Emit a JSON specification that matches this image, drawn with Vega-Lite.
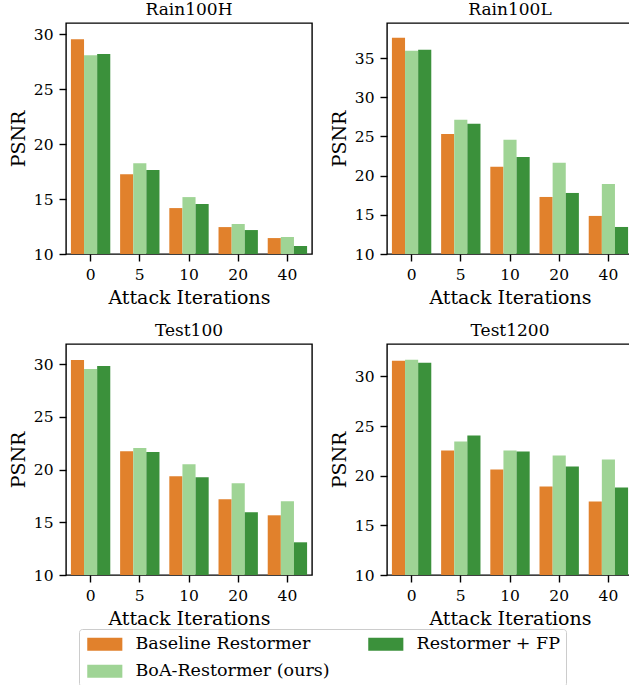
{
  "$schema": "https://vega.github.io/schema/vega-lite/v6.json",
  "padding": {"left": 8, "top": 0, "right": 0, "bottom": 0},
  "background": "white",
  "data": {"values": [
    {"dataset": "Rain100H", "iter": 0, "model": "Baseline Restormer", "psnr": 29.55},
    {"dataset": "Rain100H", "iter": 0, "model": "BoA-Restormer (ours)", "psnr": 28.1},
    {"dataset": "Rain100H", "iter": 0, "model": "Restormer + FP", "psnr": 28.2},
    {"dataset": "Rain100H", "iter": 5, "model": "Baseline Restormer", "psnr": 17.27},
    {"dataset": "Rain100H", "iter": 5, "model": "BoA-Restormer (ours)", "psnr": 18.27},
    {"dataset": "Rain100H", "iter": 5, "model": "Restormer + FP", "psnr": 17.64},
    {"dataset": "Rain100H", "iter": 10, "model": "Baseline Restormer", "psnr": 14.18},
    {"dataset": "Rain100H", "iter": 10, "model": "BoA-Restormer (ours)", "psnr": 15.18},
    {"dataset": "Rain100H", "iter": 10, "model": "Restormer + FP", "psnr": 14.55},
    {"dataset": "Rain100H", "iter": 20, "model": "Baseline Restormer", "psnr": 12.45},
    {"dataset": "Rain100H", "iter": 20, "model": "BoA-Restormer (ours)", "psnr": 12.73},
    {"dataset": "Rain100H", "iter": 20, "model": "Restormer + FP", "psnr": 12.18},
    {"dataset": "Rain100H", "iter": 40, "model": "Baseline Restormer", "psnr": 11.45},
    {"dataset": "Rain100H", "iter": 40, "model": "BoA-Restormer (ours)", "psnr": 11.55},
    {"dataset": "Rain100H", "iter": 40, "model": "Restormer + FP", "psnr": 10.73},
    {"dataset": "Rain100L", "iter": 0, "model": "Baseline Restormer", "psnr": 37.6},
    {"dataset": "Rain100L", "iter": 0, "model": "BoA-Restormer (ours)", "psnr": 35.94},
    {"dataset": "Rain100L", "iter": 0, "model": "Restormer + FP", "psnr": 36.06},
    {"dataset": "Rain100L", "iter": 5, "model": "Baseline Restormer", "psnr": 25.33},
    {"dataset": "Rain100L", "iter": 5, "model": "BoA-Restormer (ours)", "psnr": 27.12},
    {"dataset": "Rain100L", "iter": 5, "model": "Restormer + FP", "psnr": 26.61},
    {"dataset": "Rain100L", "iter": 10, "model": "Baseline Restormer", "psnr": 21.12},
    {"dataset": "Rain100L", "iter": 10, "model": "BoA-Restormer (ours)", "psnr": 24.57},
    {"dataset": "Rain100L", "iter": 10, "model": "Restormer + FP", "psnr": 22.39},
    {"dataset": "Rain100L", "iter": 20, "model": "Baseline Restormer", "psnr": 17.28},
    {"dataset": "Rain100L", "iter": 20, "model": "BoA-Restormer (ours)", "psnr": 21.63},
    {"dataset": "Rain100L", "iter": 20, "model": "Restormer + FP", "psnr": 17.79},
    {"dataset": "Rain100L", "iter": 40, "model": "Baseline Restormer", "psnr": 14.86},
    {"dataset": "Rain100L", "iter": 40, "model": "BoA-Restormer (ours)", "psnr": 18.94},
    {"dataset": "Rain100L", "iter": 40, "model": "Restormer + FP", "psnr": 13.45},
    {"dataset": "Test100", "iter": 0, "model": "Baseline Restormer", "psnr": 30.38},
    {"dataset": "Test100", "iter": 0, "model": "BoA-Restormer (ours)", "psnr": 29.53},
    {"dataset": "Test100", "iter": 0, "model": "Restormer + FP", "psnr": 29.81},
    {"dataset": "Test100", "iter": 5, "model": "Baseline Restormer", "psnr": 21.74},
    {"dataset": "Test100", "iter": 5, "model": "BoA-Restormer (ours)", "psnr": 22.03},
    {"dataset": "Test100", "iter": 5, "model": "Restormer + FP", "psnr": 21.65},
    {"dataset": "Test100", "iter": 10, "model": "Baseline Restormer", "psnr": 19.37},
    {"dataset": "Test100", "iter": 10, "model": "BoA-Restormer (ours)", "psnr": 20.51},
    {"dataset": "Test100", "iter": 10, "model": "Restormer + FP", "psnr": 19.27},
    {"dataset": "Test100", "iter": 20, "model": "Baseline Restormer", "psnr": 17.18},
    {"dataset": "Test100", "iter": 20, "model": "BoA-Restormer (ours)", "psnr": 18.7},
    {"dataset": "Test100", "iter": 20, "model": "Restormer + FP", "psnr": 15.95},
    {"dataset": "Test100", "iter": 40, "model": "Baseline Restormer", "psnr": 15.66},
    {"dataset": "Test100", "iter": 40, "model": "BoA-Restormer (ours)", "psnr": 16.99},
    {"dataset": "Test100", "iter": 40, "model": "Restormer + FP", "psnr": 13.1},
    {"dataset": "Test1200", "iter": 0, "model": "Baseline Restormer", "psnr": 31.57},
    {"dataset": "Test1200", "iter": 0, "model": "BoA-Restormer (ours)", "psnr": 31.68},
    {"dataset": "Test1200", "iter": 0, "model": "Restormer + FP", "psnr": 31.37},
    {"dataset": "Test1200", "iter": 5, "model": "Baseline Restormer", "psnr": 22.53},
    {"dataset": "Test1200", "iter": 5, "model": "BoA-Restormer (ours)", "psnr": 23.43},
    {"dataset": "Test1200", "iter": 5, "model": "Restormer + FP", "psnr": 24.04},
    {"dataset": "Test1200", "iter": 10, "model": "Baseline Restormer", "psnr": 20.62},
    {"dataset": "Test1200", "iter": 10, "model": "BoA-Restormer (ours)", "psnr": 22.53},
    {"dataset": "Test1200", "iter": 10, "model": "Restormer + FP", "psnr": 22.43},
    {"dataset": "Test1200", "iter": 20, "model": "Baseline Restormer", "psnr": 18.91},
    {"dataset": "Test1200", "iter": 20, "model": "BoA-Restormer (ours)", "psnr": 22.03},
    {"dataset": "Test1200", "iter": 20, "model": "Restormer + FP", "psnr": 20.92},
    {"dataset": "Test1200", "iter": 40, "model": "Baseline Restormer", "psnr": 17.4},
    {"dataset": "Test1200", "iter": 40, "model": "BoA-Restormer (ours)", "psnr": 21.62},
    {"dataset": "Test1200", "iter": 40, "model": "Restormer + FP", "psnr": 18.81}
  ]},
  "columns": 2,
  "spacing": {"row": 90, "column": 75},
  "bounds": "flush",
  "resolve": {"scale": {"y": "independent"}},
  "concat": [
    {
      "title": {"text": "Rain100H", "font": "DejaVu Serif", "fontSize": 17, "fontWeight": "normal"},
      "width": 246, "height": 231,
      "transform": [{"filter": "datum.dataset === 'Rain100H'"}],
      "mark": {"type": "bar", "clip": true},
      "encoding": {
        "x": {"field": "iter", "type": "ordinal", "sort": [0, 5, 10, 20, 40], "title": "Attack Iterations", "scale": {"paddingInner": 0.2, "paddingOuter": 0.1}, "axis": {"labelAngle": 0, "labelFont": "DejaVu Serif", "titleFont": "DejaVu Serif", "labelPadding": 6, "titlePadding": 6}},
        "xOffset": {"field": "model", "type": "nominal", "sort": ["Baseline Restormer", "BoA-Restormer (ours)", "Restormer + FP"], "scale": {"paddingInner": 0, "paddingOuter": 0}},
        "y": {"field": "psnr", "type": "quantitative", "title": "PSNR", "scale": {"domain": [10, 31.03], "nice": false, "zero": false}, "axis": {"values": [10, 15, 20, 25, 30], "labelFont": "DejaVu Serif", "titleFont": "DejaVu Serif"}},
        "y2": {"datum": 10},
        "color": {"field": "model", "type": "nominal", "scale": {"domain": ["Baseline Restormer", "BoA-Restormer (ours)", "Restormer + FP"], "range": ["#e1812c", "#9fd495", "#3b913b"]}, "legend": {"orient": "none", "legendX": 13, "legendY": 606, "title": null, "columns": 2, "labelFont": "DejaVu Serif"}}
      }
    },
    {
      "title": {"text": "Rain100L", "font": "DejaVu Serif", "fontSize": 17, "fontWeight": "normal"},
      "width": 246, "height": 231,
      "transform": [{"filter": "datum.dataset === 'Rain100L'"}],
      "mark": {"type": "bar", "clip": true},
      "encoding": {
        "x": {"field": "iter", "type": "ordinal", "sort": [0, 5, 10, 20, 40], "title": "Attack Iterations", "scale": {"paddingInner": 0.2, "paddingOuter": 0.1}, "axis": {"labelAngle": 0, "labelFont": "DejaVu Serif", "titleFont": "DejaVu Serif", "labelPadding": 6, "titlePadding": 6}},
        "xOffset": {"field": "model", "type": "nominal", "sort": ["Baseline Restormer", "BoA-Restormer (ours)", "Restormer + FP"], "scale": {"paddingInner": 0, "paddingOuter": 0}},
        "y": {"field": "psnr", "type": "quantitative", "title": "PSNR", "scale": {"domain": [10, 39.48], "nice": false, "zero": false}, "axis": {"values": [10, 15, 20, 25, 30, 35], "labelFont": "DejaVu Serif", "titleFont": "DejaVu Serif"}},
        "y2": {"datum": 10},
        "color": {"field": "model", "type": "nominal", "scale": {"domain": ["Baseline Restormer", "BoA-Restormer (ours)", "Restormer + FP"], "range": ["#e1812c", "#9fd495", "#3b913b"]}}
      }
    },
    {
      "title": {"text": "Test100", "font": "DejaVu Serif", "fontSize": 17, "fontWeight": "normal"},
      "width": 246, "height": 231,
      "transform": [{"filter": "datum.dataset === 'Test100'"}],
      "mark": {"type": "bar", "clip": true},
      "encoding": {
        "x": {"field": "iter", "type": "ordinal", "sort": [0, 5, 10, 20, 40], "title": "Attack Iterations", "scale": {"paddingInner": 0.2, "paddingOuter": 0.1}, "axis": {"labelAngle": 0, "labelFont": "DejaVu Serif", "titleFont": "DejaVu Serif", "labelPadding": 6, "titlePadding": 6}},
        "xOffset": {"field": "model", "type": "nominal", "sort": ["Baseline Restormer", "BoA-Restormer (ours)", "Restormer + FP"], "scale": {"paddingInner": 0, "paddingOuter": 0}},
        "y": {"field": "psnr", "type": "quantitative", "title": "PSNR", "scale": {"domain": [10, 31.9], "nice": false, "zero": false}, "axis": {"values": [10, 15, 20, 25, 30], "labelFont": "DejaVu Serif", "titleFont": "DejaVu Serif"}},
        "y2": {"datum": 10},
        "color": {"field": "model", "type": "nominal", "scale": {"domain": ["Baseline Restormer", "BoA-Restormer (ours)", "Restormer + FP"], "range": ["#e1812c", "#9fd495", "#3b913b"]}}
      }
    },
    {
      "title": {"text": "Test1200", "font": "DejaVu Serif", "fontSize": 17, "fontWeight": "normal"},
      "width": 246, "height": 231,
      "transform": [{"filter": "datum.dataset === 'Test1200'"}],
      "mark": {"type": "bar", "clip": true},
      "encoding": {
        "x": {"field": "iter", "type": "ordinal", "sort": [0, 5, 10, 20, 40], "title": "Attack Iterations", "scale": {"paddingInner": 0.2, "paddingOuter": 0.1}, "axis": {"labelAngle": 0, "labelFont": "DejaVu Serif", "titleFont": "DejaVu Serif", "labelPadding": 6, "titlePadding": 6}},
        "xOffset": {"field": "model", "type": "nominal", "sort": ["Baseline Restormer", "BoA-Restormer (ours)", "Restormer + FP"], "scale": {"paddingInner": 0, "paddingOuter": 0}},
        "y": {"field": "psnr", "type": "quantitative", "title": "PSNR", "scale": {"domain": [10, 33.26], "nice": false, "zero": false}, "axis": {"values": [10, 15, 20, 25, 30], "labelFont": "DejaVu Serif", "titleFont": "DejaVu Serif"}},
        "y2": {"datum": 10},
        "color": {"field": "model", "type": "nominal", "scale": {"domain": ["Baseline Restormer", "BoA-Restormer (ours)", "Restormer + FP"], "range": ["#e1812c", "#9fd495", "#3b913b"]}}
      }
    }
  ],
  "config": {
    "view": {"stroke": "black", "strokeWidth": 1.4},
    "axis": {
      "labelFontSize": 15.5, "labelColor": "black",
      "titleFontSize": 19, "titleFontWeight": "normal", "titleColor": "black",
      "tickColor": "black", "tickSize": 7, "tickWidth": 1.4, "domain": false, "grid": false, "labelPadding": 6, "titlePadding": 5
    },
    "title": {"color": "black", "offset": 4},
    "legend": {
      "labelFontSize": 17.5, "labelColor": "black", "labelLimit": 0,
      "symbolType": "M-1,-1H4.4V1H-1Z", "symbolSize": 169, "symbolStrokeWidth": 0, "symbolOpacity": 1,
      "labelOffset": 33, "columnPadding": 36, "rowPadding": 8.5,
      "strokeColor": "#cccccc", "strokeWidth": 1, "cornerRadius": 3, "padding": 6, "fillColor": "white"
    }
  }
}
